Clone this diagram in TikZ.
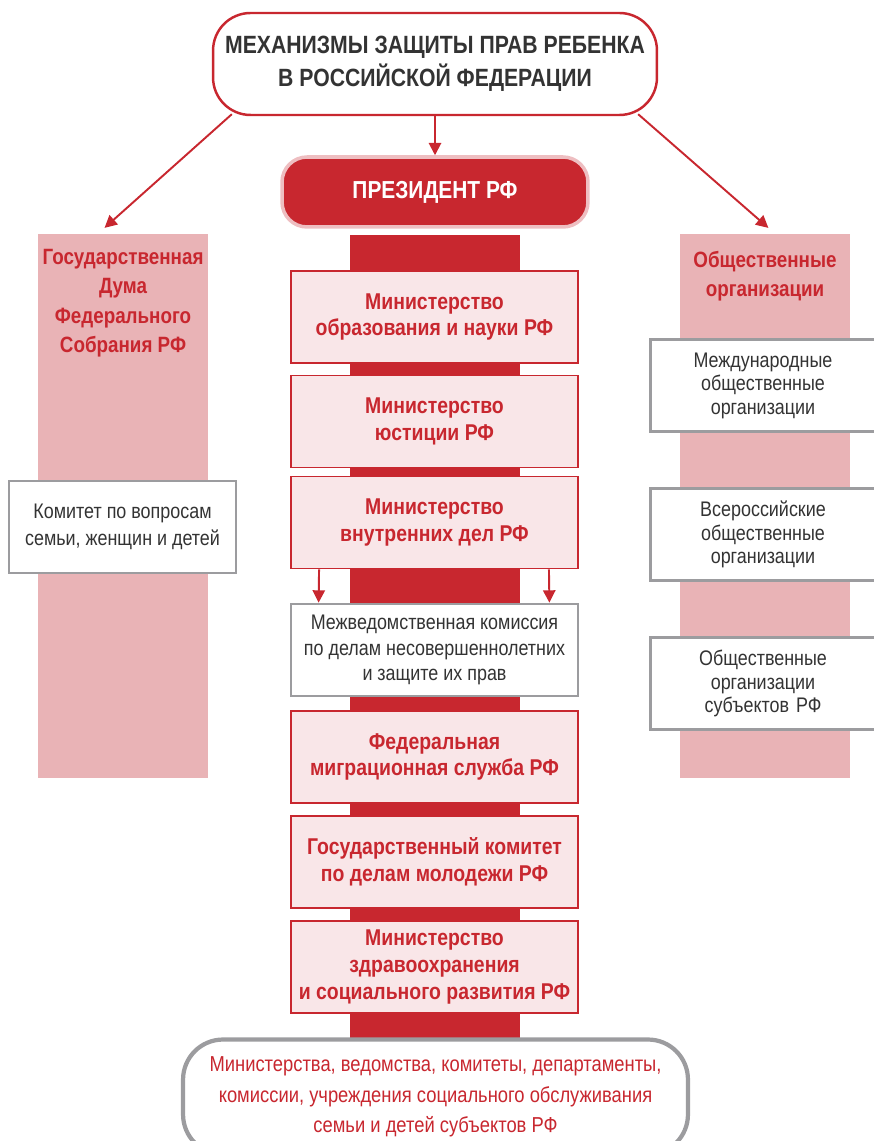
\documentclass[tikz,border=0pt]{standalone}
\usepackage{fontspec}
\setmainfont{Liberation Sans}[FakeStretch=0.85]
\usetikzlibrary{arrows.meta}
\definecolor{mechRed}{HTML}{C8272F}
\definecolor{mechStrip}{HTML}{E9B3B6}
\definecolor{mechFill}{HTML}{F9E6E8}
\definecolor{mechGray}{HTML}{9C9C9F}
\definecolor{mechText}{HTML}{333333}
\tikzset{
  ministry/.style={draw=mechRed, line width=1.1pt, fill=mechFill, text=mechRed,
    minimum width=5.74cm, minimum height=1.84cm, align=center,
    font=\bfseries\fontsize{13}{15.3}\selectfont},
  graybox/.style={draw=mechGray, line width=1.6pt, fill=white, text=mechText,
    minimum height=1.84cm, align=center, font=\fontsize{12}{14.7}\selectfont},
  orgbox/.style={graybox, minimum width=4.5cm, text width=4.1cm, xshift=-0.04cm,
    font=\fontsize{12}{13.4}\selectfont},
  strip/.style={fill=mechStrip, minimum width=3.4cm, minimum height=10.88cm, inner sep=0pt},
  header/.style={text=mechRed, align=center, font=\bfseries\fontsize{12.6}{16.8}\selectfont},
  link/.style={draw=mechRed, line width=1.1pt, -{Triangle[length=7pt,width=7pt]}}
}
\begin{document}
\begin{tikzpicture}[x=0.02cm,y=-0.02cm]
\useasboundingbox (0,0) rectangle (874,1141);
\clip (0,0) rectangle (874,1141);
\node[strip]                     (dumaStrip)  at (123,506) {};
\node[strip]                     (obschStrip) at (765,506) {};
\fill[mechRed] (350,235) rectangle (520,1040);

\node[draw=mechRed, line width=1.4pt, fill=white, rounded corners=0.75cm,
      minimum width=8.88cm, minimum height=2.04cm, align=center, text=mechText,
      font=\bfseries\fontsize{14.2}{19}\selectfont]
                                 (mechanisms) at (435,64)  {МЕХАНИЗМЫ ЗАЩИТЫ ПРАВ РЕБЕНКА\\В РОССИЙСКОЙ ФЕДЕРАЦИИ};
\node[draw=mechRed!30, line width=2pt, fill=mechRed, rounded corners=0.5cm,
      minimum width=6.12cm, minimum height=1.4cm, text=white,
      font=\bfseries\fontsize{14}{16}\selectfont]
                                 (president)  at (435,192) {ПРЕЗИДЕНТ РФ};

\node[header]                    (dumaTitle)  at (123,303) {Государственная\\Дума\\Федерального\\Собрания РФ};
\node[graybox, minimum width=4.54cm, font=\fontsize{12}{15.3}\selectfont]
                                 (dumaComm)   at (122.5,527) {Комитет по вопросам\\семьи, женщин и детей};

\node[header]                    (obschTitle) at (765,276) {Общественные\\организации};
\node[orgbox]                    (intOrg)     at (765,385.5) {Международные\\общественные\\организации};
\node[orgbox]                    (allOrg)     at (765,534.5) {Всероссийские\\общественные\\организации};
\node[orgbox]                    (regOrg)     at (765,683.5) {Общественные\\организации\\субъектов РФ};

\node[ministry]                  (education)  at (434.5,317)   {Министерство\\образования и науки РФ};
\node[ministry]                  (justice)    at (434.5,421.5) {Министерство\\юстиции РФ};
\node[ministry]                  (interior)   at (434.5,522.5) {Министерство\\внутренних дел РФ};
\node[graybox, minimum width=5.74cm]
                                 (commission) at (434.5,650)   {Межведомственная комиссия\\по делам несовершеннолетних\\и защите их прав};
\node[ministry]                  (migration)  at (434.5,757)   {Федеральная\\миграционная служба РФ};
\node[ministry]                  (youth)      at (434.5,862)   {Государственный комитет\\по делам молодежи РФ};
\node[ministry]                  (health)     at (434.5,967)   {Министерство\\здравоохранения\\и социального развития РФ};

\node[draw=mechGray, line width=2.4pt, fill=white, rounded corners=0.8cm,
      minimum width=10.1cm, minimum height=2.3cm, align=center, text=mechRed,
      font=\fontsize{12.3}{17.2}\selectfont]
                                 (regional)   at (435.5,1097) {Министерства, ведомства, комитеты, департаменты,\\комиссии, учреждения социального обслуживания\\семьи и детей субъектов РФ};

\draw[link] (mechanisms) -- (president);
\draw[link, shorten >=5pt] ([xshift=0.4cm,yshift=0.04cm]mechanisms.south west) -- ([xshift=-0.5cm]dumaStrip.north);
\draw[link, shorten >=5pt] ([xshift=-0.4cm,yshift=0.04cm]mechanisms.south east) -- ([xshift=0.2cm]obschStrip.north);
\draw[link] ([xshift=0.58cm]interior.south west) -- ([xshift=0.58cm]commission.north west);
\draw[link] ([xshift=-0.6cm]interior.south east) -- ([xshift=-0.6cm]commission.north east);
\end{tikzpicture}
\end{document}
